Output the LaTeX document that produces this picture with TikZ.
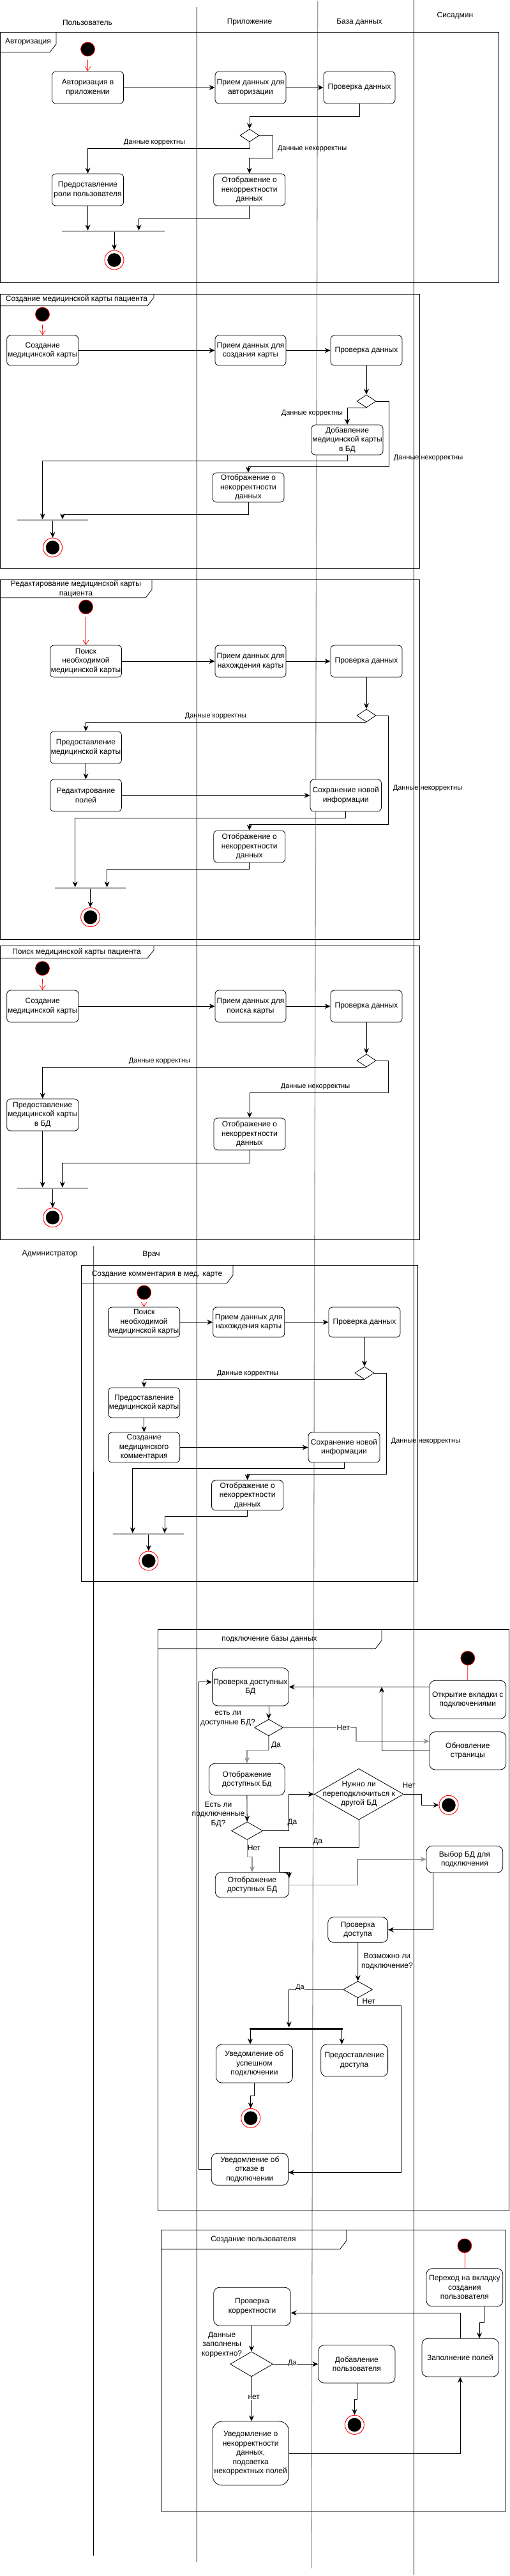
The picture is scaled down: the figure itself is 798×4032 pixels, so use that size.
\documentclass[tikz,border=0pt]{standalone}
\usepackage{fontspec}
\setmainfont{Liberation Sans}
\usetikzlibrary{shapes.geometric,arrows.meta,calc}
\newcommand\bxf{\fontsize{12}{14.5}\selectfont}
\newcommand\lbf{\fontsize{11}{13}\selectfont}
\newcommand\ABox[7][]{\node[actbox,#1,minimum width={(#4-#3)*1pt},minimum height={(#6-#5)*1pt}] (#2) at ({(#3+#4)/2},{(#5+#6)/2}) {#7};}
\newcommand\EndN[3]{\node[endring] (#1) at (#2,#3) {};\node[enddot] (#1d) at (#1) {};}
\newcommand\TabFrame[6]{\draw[frm] (#1,#2) rectangle (#3,#4);\draw[frm] (#1,#6) -- ({#5-10},#6) -- (#5,{#6-13}) -- (#5,#2);}
\tikzset{
 actbox/.style={draw,rounded corners=6pt,fill=white,align=center,inner sep=0.5pt,font=\bxf,line width=0.8pt},
 dec/.style={draw,diamond,fill=white,minimum width=30pt,minimum height=20pt,inner sep=0pt,line width=0.8pt},
 startn/.style={circle,fill=black,draw=red,minimum size=22pt,inner sep=0pt,line width=0.7pt},
 endring/.style={circle,draw=red,fill=white,minimum size=30pt,inner sep=0pt,line width=0.9pt},
 enddot/.style={circle,fill=black,draw=black,minimum size=21pt,inner sep=0pt},
 flow/.style={draw,line width=0.8pt,-{Stealth[length=9pt,width=8pt,inset=3pt]}},
 gflow/.style={flow,draw=gray!85,line width=1.3pt},
 startarr/.style={draw=red,line width=0.7pt,-{Straight Barb[length=7pt,width=9pt]},shorten <=5pt},
 elbl/.style={font=\lbf,inner sep=1pt},
 wlbl/.style={font=\bxf,fill=white,inner sep=0.5pt,align=center},
 tlbl/.style={font=\bxf,inner sep=0.5pt,align=center},
 jbar/.style={fill=gray!70,minimum height=2.2pt,inner sep=0pt},
 fbar/.style={fill=black,minimum height=3pt,inner sep=0pt},
 frm/.style={line width=0.8pt},
 lane/.style={line width=0.8pt},
 lanemid/.style={line width=1.3pt,draw=gray!75},
 hdr/.style={font=\bxf}
}
\begin{document}
\begin{tikzpicture}[x=1pt,y=-1pt]
\useasboundingbox (0,0) rectangle (798,4032);
\fill[white] (0,0) rectangle (798,4032);
% lanes
\draw[lane] (308,10.7) -- (308,4010);
\draw[lanemid] (497.7,1.7) -- (487.7,4020);
\draw[lane] (648,0) -- (648,4030);
\draw[lane] (146.7,1950) -- (146.4,4000);
\node[hdr] (h1) at (137,35) {Пользователь};
\node[hdr] (h2) at (391,35) {Приложение};
\node[hdr] (h3) at (563,35) {База данных};
\node[hdr] (h4) at (713,25) {Сисадмин};
\node[hdr] (h5) at (78,1962.7) {Администратор};
\node[hdr] (h6) at (237,1964) {Врач};

% ===== Frame 1
\TabFrame{0.5}{50}{781}{442}{88}{82}
\node[tlbl] (t1) at (44,66) {Авторизация};
\node[startn] (s1) at (137.5,77) {};
\ABox{a1}{81.5}{193.6}{112}{162}{Авторизация в\\приложении}
\ABox{a2}{337}{448}{112}{162}{Прием данных для\\авторизации}
\ABox{a3}{507}{619}{112}{162}{Проверка данных}
\node[dec] (ad) at (391,212) {};
\ABox{a4}{81.5}{193.6}{272}{322}{Предоставление\\роли пользователя}
\ABox{a5}{334.7}{446.8}{272}{322}{Отображение о\\некорректности\\данных}
\node[jbar,minimum width=161pt] (ab) at (177.5,362) {};
\EndN{ae}{179}{407}
\draw[startarr] (s1) -- (a1);
\draw[flow] (a1) -- (a2);
\draw[flow] (a2) -- (a3);
\draw[flow] (a3.south) |- (391,182) -- (ad.north);
\draw[flow] (ad.south) -- ++(0,10) -| (a4.north);
\node[elbl] (al1) at (242,223) {Данные корректны};
\draw[flow] (ad.east) -- (427,212) -- (427,247) -| (a5.north);
\node[elbl] (al2) at (489,233) {Данные некорректны};
\draw[flow] (a4.south) -- (a4.south |- ab.north);
\draw[flow] (a5.south) -- ++(0,20) -| (217.5,0 |- ab.north);
\draw[flow] (ab.south -| ae) -- (ae.north);

% ===== Frame 2
\TabFrame{0.5}{460}{657}{889}{241}{478.7}
\node[tlbl] (t2) at (120,468.5) {Создание медицинской карты пациента};
\node[startn] (s2) at (66.5,492) {};
\ABox{b1}{10.7}{122.8}{525}{572}{Создание\\медицинской карты}
\ABox{b2}{337}{448}{525}{572}{Прием данных для\\создания карты}
\ABox{b3}{518}{630}{525}{572}{Проверка данных}
\node[dec] (bd) at (574,628) {};
\ABox{b4}{488}{600}{665}{712}{Добавление\\медицинской карты\\в БД}
\ABox{b5}{333}{445}{740}{786}{Отображение о\\некорректности\\данных}
\node[jbar,minimum width=111pt] (bb) at (82,814) {};
\EndN{be}{82.5}{857}
\draw[startarr] (s2) -- (b1);
\draw[flow] (b1) -- (b2);
\draw[flow] (b2) -- (b3);
\draw[flow] (b3) -- (bd);
\draw[flow] (bd.south) -| (b4.north);
\node[elbl] (bl1) at (489,647) {Данные корректны};
\draw[flow] (bd.east) -- (609,628) -- (609,730) -| (b5.north);
\node[elbl] (bl2) at (671,717) {Данные некорректны};
\draw[flow] (b4.south) -- ++(0,9) -| (66.7,0 |- bb.north);
\draw[flow] (b5.south) -- ++(0,19) -| (98,0 |- bb.north);
\draw[flow] (bb.south -| be) -- (be.north);

% ===== Frame 3
\TabFrame{0.5}{907.7}{657}{1470}{238}{935.7}
\node[tlbl] (t3) at (119,921.5) {Редактирование медицинской карты\\пациента};
\node[startn] (s3) at (134.5,950) {};
\ABox{c1}{78.5}{190.5}{1010}{1060}{Поиск\\необходимой\\медицинской карты}
\ABox{c2}{337}{448}{1010}{1060}{Прием данных для\\нахождения карты}
\ABox{c3}{518}{630}{1010}{1060}{Проверка данных}
\node[dec] (cd) at (574,1120) {};
\ABox{c4}{78.5}{190.5}{1145}{1195}{Предоставление\\медицинской карты}
\ABox{c5}{78.5}{190.5}{1220}{1270}{Редактирование\\полей}
\ABox{c6}{486}{597.5}{1220}{1270}{Сохранение новой\\информации}
\ABox{c7}{334.7}{446.8}{1300}{1350}{Отображение о\\некорректности\\данных}
\node[jbar,minimum width=111pt] (cb) at (141.1,1390) {};
\EndN{ce}{141.6}{1435.7}
\draw[startarr] (s3) -- (c1);
\draw[flow] (c1) -- (c2);
\draw[flow] (c2) -- (c3);
\draw[flow] (c3) -- (cd);
\draw[flow] (cd.south) -| (c4.north);
\node[elbl] (cl1) at (338,1121) {Данные корректны};
\draw[flow] (c4) -- (c5);
\draw[flow] (c5) -- (c6);
\draw[flow] (cd.east) -- (608,1120) -- (608,1290) -| (c7.north);
\node[elbl] (cl2) at (670,1234) {Данные некорректны};
\draw[flow] (c6.south) -- ++(0,10) -| (117.7,0 |- cb.north);
\draw[flow] (c7.south) -- ++(0,10) -| (167.6,0 |- cb.north);
\draw[flow] (cb.south -| ce) -- (ce.north);

% ===== Frame 4
\TabFrame{0.5}{1480.7}{657}{1940}{241}{1500}
\node[tlbl] (t4) at (120,1490) {Поиск медицинской карты пациента};
\node[startn] (s4) at (66.5,1515.7) {};
\ABox{d1}{10.7}{122.8}{1550}{1600}{Создание\\медицинской карты}
\ABox{d2}{337}{448}{1550}{1600}{Прием данных для\\поиска карты}
\ABox{d3}{518}{630}{1550}{1600}{Проверка данных}
\node[dec] (dd) at (574,1660) {};
\ABox{d4}{10.7}{122.8}{1720}{1770}{Предоставление\\медицинской карты\\в БД}
\ABox{d5}{335}{447}{1750}{1800}{Отображение о\\некорректности\\данных}
\node[jbar,minimum width=111pt] (db) at (82,1860) {};
\EndN{de}{82.5}{1905.7}
\draw[startarr] (s4) -- (d1);
\draw[flow] (d1) -- (d2);
\draw[flow] (d2) -- (d3);
\draw[flow] (d3) -- (dd);
\draw[flow] (dd.south) -| (d4.north);
\node[elbl] (dl1) at (250,1661) {Данные корректны};
\draw[flow] (dd.east) -- (608.8,1660) -- (608.8,1710) -| (d5.north);
\node[elbl] (dl2) at (494,1701) {Данные некорректны};
\draw[flow] (d4.south) -- (d4.south |- db.north);
\draw[flow] (d5.south) -- ++(0,20) -| (97.8,0 |- db.north);
\draw[flow] (db.south -| de) -- (de.north);

% ===== Frame 5
\TabFrame{127}{1980}{654.6}{2475.7}{365}{2009}
\node[tlbl] (t5) at (246,1995) {Создание комментария в мед. карте};
\node[startn] (s5) at (225.7,2023) {};
\ABox{e1}{169.6}{281.7}{2046}{2093}{Поиск\\необходимой\\медицинской карты}
\ABox{e2}{333.7}{445.7}{2046}{2093}{Прием данных для\\нахождения карты}
\ABox{e3}{515}{627}{2046}{2093}{Проверка данных}
\node[dec] (ed) at (571,2149) {};
\ABox{e4}{169.6}{281.7}{2172}{2219}{Предоставление\\медицинской карты}
\ABox{e5}{169.6}{281.7}{2242}{2289}{Создание\\медицинского\\комментария}
\ABox{e6}{483}{595}{2242}{2289}{Сохранение новой\\информации}
\ABox{e7}{331.6}{443.7}{2317}{2364}{Отображение о\\некорректности\\данных}
\node[jbar,minimum width=111pt] (eb) at (232.3,2401) {};
\EndN{ee}{232.8}{2443}
\draw[startarr] (s5) -- (e1);
\draw[flow] (e1) -- (e2);
\draw[flow] (e2) -- (e3);
\draw[flow] (e3) -- (ed);
\draw[flow] (ed.south) -| (e4.north);
\node[elbl] (el1) at (388,2150) {Данные корректны};
\draw[flow] (e4) -- (e5);
\draw[flow] (e5) -- (e6);
\draw[flow] (ed.east) -- (605,2149) -- (605,2307.7) -| (e7.north);
\node[elbl] (el2) at (667,2255.7) {Данные некорректны};
\draw[flow] (e6.south) -- ++(0,9) -| (207.8,0 |- eb.north);
\draw[flow] (e7.south) -- ++(0,9) -| (258,0 |- eb.north);
\draw[flow] (eb.south -| ee) -- (ee.north);

% ===== Frame 6
\TabFrame{247.3}{2550.7}{797.2}{3460}{598}{2580.7}
\node[tlbl] (t6) at (422,2565) {подключение базы данных};
\node[startn] (s6) at (732.8,2595.3) {};
\ABox[rounded corners=9pt]{o}{672.9}{792.7}{2630.3}{2690.3}{Открытие вкладки с\\подключениями}
\ABox[rounded corners=9pt]{p}{332.4}{452.3}{2610.7}{2670}{Проверка доступных\\БД}
\ABox[rounded corners=9pt]{u}{672.9}{792.7}{2710.7}{2770}{Обновление\\страницы}
\node[dec,minimum width=45pt,minimum height=26pt] (g1) at (421,2704) {};
\ABox[rounded corners=9pt]{v}{327.5}{446.2}{2760.3}{2810}{Отображение\\доступных Бд}
\node[dec,minimum width=49pt,minimum height=28pt] (g2) at (387.2,2865.5) {};
\node[dec,minimum width=140pt,minimum height=80pt] (bdm) at (562.2,2808.3) {};
\node[font=\fontsize{12}{14.3}\selectfont,align=center,inner sep=0pt] (bdt) at (562.2,2808.3) {Нужно ли\\переподключиться к\\другой БД};
\EndN{fa}{703}{2825.3}
\ABox[rounded corners=9pt]{w}{337.3}{452.7}{2930.7}{2970}{Отображение\\доступных БД}
\ABox[rounded corners=9pt]{xb}{668}{787.8}{2889.3}{2931}{Выбор БД для\\подключения}
\ABox[rounded corners=9pt]{y}{513.7}{607.6}{3000.7}{3040.3}{Проверка\\доступа}
\node[dec,minimum width=46pt,minimum height=26pt] (g3) at (560.7,3114) {};
\node[fbar,minimum width=146pt] (fb) at (464.3,3175) {};
\ABox[rounded corners=9pt]{z}{338.5}{458.4}{3200}{3260}{Уведомление об\\успешном\\подключении}
\ABox[rounded corners=9pt]{aa}{502.7}{607.6}{3200}{3250}{Предоставление\\доступа}
\EndN{fb2}{392.7}{3315.3}
\ABox[rounded corners=9pt]{bbx}{331.3}{451.5}{3370.3}{3420.3}{Уведомление об\\отказе в\\подключении}

\draw[red,line width=0.8pt] (s6) -- (o);
\draw[flow] (p.east -| o.west) -- (p.east);
\draw[flow] (g1.north |- p.south) -- (g1.north);
\node[tlbl] (q1) at (357,2690) {есть ли\\доступные БД?};
\draw[gflow] (g1.east) -- (558,0 |- g1.east) |- ($(u.west)+(0,-15)$);
\node[wlbl] (n1) at (537.8,2704) {Нет};
\draw[flow] (u.west) -| (598,0 |- p.east);
\draw[gflow] (g1.south) -- ++(0,22.3) -| (v.north);
\node[tlbl] (y1) at (432.4,2732) {Да};
\draw[flow] (v.south) -- (g2.north);
\node[tlbl] (q2) at (342,2840) {Есть ли\\подключенные\\БД?};
\draw[flow] (g2.east) -- (452.7,0 |- g2.east) |- (bdm.west);
\node[tlbl] (y2) at (458,2853) {Да};
\draw[flow] (bdm.east) -- (660.3,0 |- bdm.east) |- (fa.west);
\node[tlbl] (n2) at (640.8,2794.7) {Нет};
\draw[flow] (bdm.south) -- ++(0,42.4) -| ($(w.north east)+(-15.4,0)$) -- (w.north east) -- ++(0,9);
\node[tlbl] (y3) at (497.7,2882.7) {Да};
\draw[gflow] (g2.south) -- ++(0,26.4) -| (w.north);
\node[tlbl] (n3) at (398,2892.7) {Нет};
\draw[gflow] (w.east) -- (560,0 |- w.east) |- (xb.west);
\draw[flow] (677.9,0 |- xb.south) |- (y.east);
\draw[flow] (y.south) -- (g3.north);
\node[tlbl] (q3) at (606.5,3070) {Возможно ли\\подключение?};
\draw[flow] (g3.west) -| (452.7,0 |- fb.north);
\node[wlbl,font=\lbf] (y4) at (470,3110.3) {Да};
\draw[flow] (392,0 |- fb.south) -- (392,0 |- z.north);
\draw[flow] (535.5,0 |- fb.south) -- (535.5,0 |- aa.north);
\draw[flow] (z.south) -- ++(0,20.3) -| (fb2.north);
\draw[flow] (g3.south) |- (627.9,3139.3) |- ($(bbx.east)+(0,5)$);
\node[tlbl] (n4) at (577.9,3132.7) {Нет};
\draw[flow] (bbx.west) -- (311.5,0 |- bbx.west) |- ($(p.west)+(0,-7.6)$);

% ===== Frame 7
\TabFrame{252.3}{3490.3}{792.7}{3930}{542.7}{3520.3}
\node[tlbl] (t7) at (397,3505) {Создание пользователя};
\node[startn] (s7) at (727.9,3515) {};
\ABox[rounded corners=9pt]{qq}{668}{787.8}{3550.7}{3610}{Переход на вкладку\\создания\\пользователя}
\ABox[rounded corners=9pt]{rr}{661}{781}{3660.3}{3720}{Заполнение полей}
\ABox[rounded corners=9pt]{tt}{334.7}{455.3}{3580.3}{3640}{Проверка\\корректности}
\node[dec,minimum width=67pt,minimum height=39pt] (g4) at (394,3700.3) {};
\ABox[rounded corners=9pt]{ad7}{498.8}{619}{3670.7}{3730}{Добавление\\пользователя}
\EndN{f7}{555.4}{3795.3}
\ABox[rounded corners=15pt]{un}{333}{452.5}{3790}{3890}{Уведомление о\\некорректности\\данных,\\подсветка\\некорректных полей}
\draw[red,line width=0.8pt] (s7) -- (qq);
\draw[flow] (758,0 |- qq.south) -- ++(0,25.3) -| (751,0 |- rr.north);
\draw[flow] (rr.north) |- ($(tt.east)+(0,10)$);
\draw[flow] (g4.north |- tt.south) -- (g4.north);
\node[tlbl] (q4) at (347.7,3670) {Данные\\заполнены\\корректно?};
\draw[flow] (g4.east) -- (ad7.west |- g4.east);
\node[wlbl,font=\lbf] (y5) at (457.8,3698.5) {Да};
\draw[flow] (g4.south) -- (g4.south |- un.north);
\node[wlbl] (n5) at (397.7,3752.7) {нет};
\draw[flow] (ad7.south) -- ++(0,25) -| (f7.north);
\draw[flow] (un.east) -| (rr.south);
\end{tikzpicture}
\end{document}
